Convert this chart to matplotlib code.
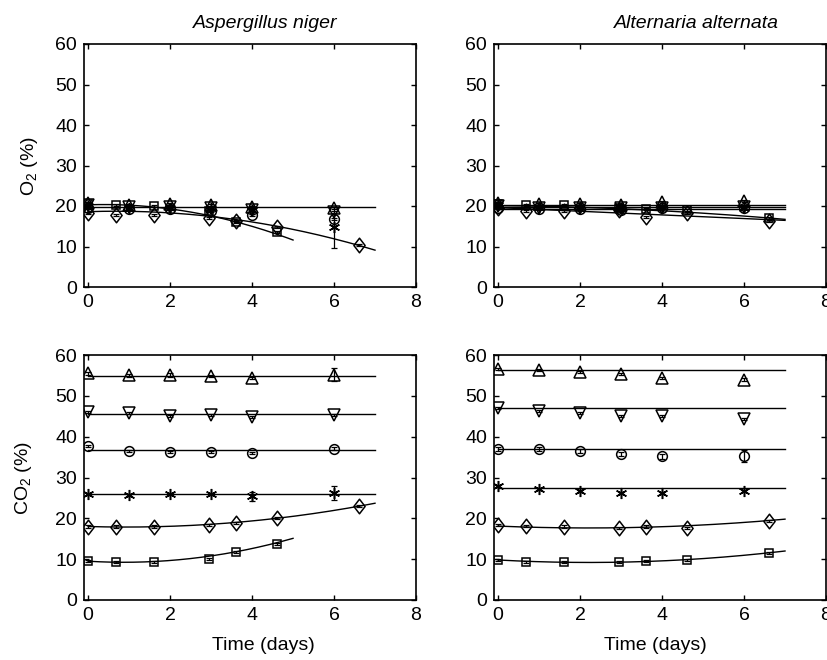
import numpy as np
import matplotlib
matplotlib.use("Agg")
import matplotlib.pyplot as plt
from matplotlib.path import Path

plt.rcParams['font.family'] = ['Liberation Sans', 'DejaVu Sans']
plt.rcParams['mathtext.fontset'] = 'custom'
plt.rcParams['mathtext.rm'] = 'Liberation Sans'
plt.rcParams['mathtext.it'] = 'Liberation Sans:italic'

# Sampling days: two measurement schedules
days_a = [0, 1, 2, 3, 4, 6]
days_b = [0, 0.67, 1.6, 2.95, 3.6, 4.6, 6.6]
days_b_short = [0, 0.67, 1.6, 2.95, 3.6, 4.6]

# ---- O2 (%), Aspergillus niger ----
o2_niger_up = [20.8, 20.3, 20.4, 20.3, 19.8, 19.6]
o2_niger_down = [20.2, 19.8, 19.8, 19.4, 19.0, 18.6]
o2_niger_circle = [19.6, 19.2, 19.2, 18.8, 17.8, 16.8]
o2_niger_star = [20.0, 19.6, 19.6, 19.4, 19.0, 14.7]
o2_niger_star_err = [0.4, 0.3, 0.3, 0.4, 1.0, 5.0]
o2_niger_diamond = [18.2, 17.8, 17.8, 17.0, 16.3, 14.8, 10.3]
o2_niger_square = [20.4, 20.2, 20.1, 18.8, 16.0, 13.7]

# ---- O2 (%), Alternaria alternata ----
o2_alt_up = [20.8, 20.4, 20.5, 20.3, 21.0, 21.2]
o2_alt_down = [20.0, 19.6, 19.6, 19.4, 19.6, 19.8]
o2_alt_circle = [19.4, 19.2, 19.2, 19.0, 19.4, 19.4]
o2_alt_star = [20.2, 19.8, 19.8, 19.6, 19.8, 19.6]
o2_alt_diamond = [19.4, 18.8, 18.8, 19.0, 17.3, 18.3, 16.4]
o2_alt_square = [20.6, 20.2, 20.2, 19.6, 19.3, 19.0, 17.0]

# ---- CO2 (%), Aspergillus niger ----
co2_niger_up = [55.5, 55.0, 55.2, 54.9, 54.4, 55.2]
co2_niger_up_err = [0.4, 0.4, 0.5, 0.3, 0.3, 1.6]
co2_niger_down = [46.0, 45.7, 45.0, 45.3, 44.8, 45.2]
co2_niger_circle = [37.6, 36.6, 36.2, 36.2, 35.9, 37.1]
co2_niger_star = [26.0, 25.7, 25.9, 25.9, 25.4, 26.2]
co2_niger_star_err = [0.3, 0.3, 0.3, 0.3, 1.1, 1.8]
co2_niger_diamond = [18.0, 18.0, 18.0, 18.3, 18.9, 20.0, 23.0]
co2_niger_square = [9.5, 9.3, 9.3, 10.0, 11.8, 13.8]

# ---- CO2 (%), Alternaria alternata ----
co2_alt_up = [56.6, 56.4, 55.9, 55.3, 54.3, 54.0]
co2_alt_down = [47.0, 46.4, 45.8, 45.1, 45.1, 44.4]
co2_alt_circle = [37.0, 37.0, 36.4, 35.8, 35.2, 35.2]
co2_alt_circle_err = [0.4, 0.4, 0.5, 0.5, 0.6, 1.5]
co2_alt_star = [27.9, 27.2, 26.8, 26.3, 26.1, 26.6]
co2_alt_diamond = [18.4, 18.1, 18.0, 17.7, 18.0, 17.7, 19.3]
co2_alt_square = [9.8, 9.3, 9.2, 9.2, 9.5, 9.75, 11.5]

# Model curves: polynomial coefficients (c0, c1, c2) and the last day drawn
model_o2_niger = {
    'flat': ([19.7, 0, 0], 7),
    'diamond': ([18.6, 0.328, -0.2407], 7),
    'square': ([20.3, 0.31, -0.41], 5),
}
model_o2_alt = {
    'up': ([20.3, 0, 0], 7),
    'down': ([19.8, 0, 0], 7),
    'circle': ([19.3, 0, 0], 7),
    'diamond': ([19.6, -0.45, 0.0], 7),
    'square': ([20.1, -0.1, -0.055], 7),
}
model_co2_niger = {
    'up': ([54.8, 0, 0], 7),
    'down': ([45.5, 0, 0], 7),
    'circle': ([36.7, 0, 0], 7),
    'star': ([25.9, 0, 0], 7),
    'diamond': ([18.0, -0.292, 0.158], 7),
    'square': ([9.5, -0.6, 0.344], 5),
}
model_co2_alt = {
    'up': ([56.4, 0, 0], 7),
    'down': ([46.9, 0, 0], 7),
    'circle': ([37.0, 0, 0], 7),
    'star': ([27.4, 0, 0], 7),
    'diamond': ([18.1, -0.415, 0.094], 7),
    'square': ([9.8, -0.546, 0.1229], 7),
}

# Marker shapes
diamond_marker = Path([(0, 0.5), (0.385, 0), (0, -0.5), (-0.385, 0), (0, 0.5)],
                      [Path.MOVETO, Path.LINETO, Path.LINETO, Path.LINETO, Path.CLOSEPOLY])
markers = {
    'up': ('^', 8.5),
    'down': ('v', 8.5),
    'circle': ('o', 7.0),
    'star': ((6, 2, 0), 8.0),
    'diamond': (diamond_marker, 10.5),
    'square': ('s', 6.3),
}

W, H = 827, 660
fig = plt.figure(figsize=(W / 100, H / 100), dpi=100)


def px_axes(x0, x1, y0, y1):
    return fig.add_axes([x0 / W, 1 - y1 / H, (x1 - x0) / W, (y1 - y0) / H])


ax_o2_n = px_axes(84, 416, 44, 287)
ax_o2_a = px_axes(494, 826, 44, 287)
ax_co2_n = px_axes(84, 416, 355, 600)
ax_co2_a = px_axes(494, 826, 355, 600)


def draw_series(ax, x, y, kind, err=None):
    m, ms = markers[kind]
    if err is None:
        err = [0.25] * len(y)
    ax.errorbar(x, y, yerr=err, fmt='none', ecolor='black', elinewidth=0.9,
                capsize=2.2, capthick=0.9, zorder=3)
    ax.plot(x, y, linestyle='none', marker=m, markersize=ms, markerfacecolor='none',
            markeredgecolor='black', markeredgewidth=1.1, zorder=4)


def draw_models(ax, models):
    for coeffs, x_end in models.values():
        xs = np.linspace(0, x_end, 200)
        ys = np.polyval(coeffs[::-1], xs)
        ax.plot(xs, ys, color='black', linewidth=1.0, zorder=2)


def style_axes(ax):
    ax.set_xlim(-0.1, 8)
    ax.set_ylim(0, 60)
    ax.set_xticks([0, 2, 4, 6, 8])
    ax.set_yticks([0, 10, 20, 30, 40, 50, 60])
    ax.tick_params(direction='in', length=3.5, width=1.0, labelsize=14,
                   top=True, right=True, pad=5)
    for s in ax.spines.values():
        s.set_linewidth(1.2)


# O2, A. niger
draw_models(ax_o2_n, model_o2_niger)
draw_series(ax_o2_n, days_a, o2_niger_up, 'up')
draw_series(ax_o2_n, days_a, o2_niger_down, 'down')
draw_series(ax_o2_n, days_a, o2_niger_circle, 'circle')
draw_series(ax_o2_n, days_a, o2_niger_star, 'star', o2_niger_star_err)
draw_series(ax_o2_n, days_b, o2_niger_diamond, 'diamond')
draw_series(ax_o2_n, days_b_short, o2_niger_square, 'square')

# O2, A. alternata
draw_models(ax_o2_a, model_o2_alt)
draw_series(ax_o2_a, days_a, o2_alt_up, 'up')
draw_series(ax_o2_a, days_a, o2_alt_down, 'down')
draw_series(ax_o2_a, days_a, o2_alt_circle, 'circle')
draw_series(ax_o2_a, days_a, o2_alt_star, 'star')
draw_series(ax_o2_a, days_b, o2_alt_diamond, 'diamond')
draw_series(ax_o2_a, days_b, o2_alt_square, 'square')

# CO2, A. niger
draw_models(ax_co2_n, model_co2_niger)
draw_series(ax_co2_n, days_a, co2_niger_up, 'up', co2_niger_up_err)
draw_series(ax_co2_n, days_a, co2_niger_down, 'down')
draw_series(ax_co2_n, days_a, co2_niger_circle, 'circle')
draw_series(ax_co2_n, days_a, co2_niger_star, 'star', co2_niger_star_err)
draw_series(ax_co2_n, days_b, co2_niger_diamond, 'diamond')
draw_series(ax_co2_n, days_b_short, co2_niger_square, 'square')

# CO2, A. alternata
draw_models(ax_co2_a, model_co2_alt)
draw_series(ax_co2_a, days_a, co2_alt_up, 'up')
draw_series(ax_co2_a, days_a, co2_alt_down, 'down')
draw_series(ax_co2_a, days_a, co2_alt_circle, 'circle', co2_alt_circle_err)
draw_series(ax_co2_a, days_a, co2_alt_star, 'star')
draw_series(ax_co2_a, days_b, co2_alt_diamond, 'diamond')
draw_series(ax_co2_a, days_b, co2_alt_square, 'square')

for ax in (ax_o2_n, ax_o2_a, ax_co2_n, ax_co2_a):
    style_axes(ax)

# Titles, axis labels
fig.text(265 / W, 1 - 23 / H, 'Aspergillus niger', fontsize=14, style='italic',
         ha='center', va='center')
fig.text(696 / W, 1 - 23 / H, 'Alternaria alternata', fontsize=14, style='italic',
         ha='center', va='center')
fig.text(30 / W, 1 - 166 / H, r'O$_2$ (%)', fontsize=14, rotation=90,
         ha='center', va='center')
fig.text(23 / W, 1 - 478 / H, r'CO$_2$ (%)', fontsize=14, rotation=90,
         ha='center', va='center')
fig.text(263 / W, 1 - 645 / H, 'Time (days)', fontsize=14, ha='center', va='center')
fig.text(655 / W, 1 - 645 / H, 'Time (days)', fontsize=14, ha='center', va='center')

fig.savefig('out.png', dpi=100)
